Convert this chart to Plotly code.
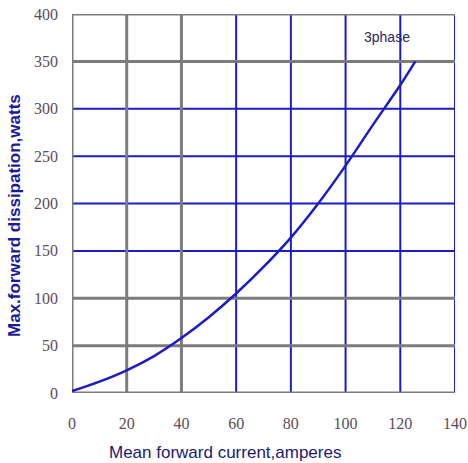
import plotly.graph_objects as go

# Curve data
current = [0, 10, 20, 30, 40, 50, 60, 70, 80, 90, 100, 110, 120, 125.5]
dissipation = [2, 12, 24, 39, 58, 80, 105, 133, 164, 200, 240, 283, 325, 350]

x_ticks = [0, 20, 40, 60, 80, 100, 120, 140]
y_ticks = [0, 50, 100, 150, 200, 250, 300, 350, 400]

gray_h = [0, 50, 100, 350, 400]
blue_h = [150, 200, 250, 300]
gray_v = [0, 20, 40]
blue_v = [60, 80, 100, 120, 140]

BLUE = "#1c1cc4"
GRAY = "#7c7c7c"
TICKCOL = "#5c4c58"

fig = go.Figure()

shapes = []
for v in blue_h:
    shapes.append(dict(type="line", xref="x", yref="y", x0=0, x1=140, y0=v, y1=v,
                       line=dict(color=BLUE, width=2), layer="below"))
for v in blue_v:
    shapes.append(dict(type="line", xref="x", yref="y", x0=v, x1=v, y0=0, y1=400,
                       line=dict(color=BLUE, width=2), layer="below"))
for v in gray_h:
    shapes.append(dict(type="line", xref="x", yref="y", x0=0, x1=140, y0=v, y1=v,
                       line=dict(color=GRAY, width=3), layer="below"))
for v in gray_v:
    shapes.append(dict(type="line", xref="x", yref="y", x0=v, x1=v, y0=0, y1=400,
                       line=dict(color=GRAY, width=3), layer="below"))

fig.add_trace(go.Scatter(x=current, y=dissipation, mode="lines",
                         line=dict(color=BLUE, width=2.5, shape="spline"),
                         showlegend=False, hoverinfo="skip"))

fig.add_annotation(x=115, y=376, xref="x", yref="y", text="3phase", showarrow=False,
                   font=dict(family="Liberation Sans, Arial", size=14, color="#2a2a5a"))

# axis titles as annotations to match the reference placement
fig.add_annotation(x=0.3995, y=0, xref="paper", yref="paper", yshift=-59,
                   xanchor="center", yanchor="middle", showarrow=False,
                   text="Mean forward current,amperes",
                   font=dict(family="Liberation Sans, Arial", size=17, color="#1a1a70"))
fig.add_annotation(x=0, y=0.504, xref="paper", yref="paper", xshift=-57, yshift=-14,
                   xanchor="center", yanchor="middle", showarrow=False, textangle=-90,
                   text="<b>Max.forward dissipation,watts</b>",
                   font=dict(family="Liberation Sans, Arial", size=17, color="#1a1aa0"))

fig.update_layout(
    width=468, height=463,
    margin=dict(l=72, r=13, t=14, b=70),
    paper_bgcolor="white", plot_bgcolor="white",
    shapes=shapes,
    xaxis=dict(range=[0, 140], tickvals=x_ticks, showgrid=False, zeroline=False,
               showline=False, ticks="", ticklabelstandoff=19, automargin=False,
               tickfont=dict(family="Liberation Serif, Times New Roman", size=16, color=TICKCOL)),
    yaxis=dict(range=[0, 400], tickvals=y_ticks, showgrid=False, zeroline=False,
               showline=False, ticks="", ticklabelstandoff=13, automargin=False,
               tickfont=dict(family="Liberation Serif, Times New Roman", size=16, color=TICKCOL)),
)

fig.write_html("out.html")
